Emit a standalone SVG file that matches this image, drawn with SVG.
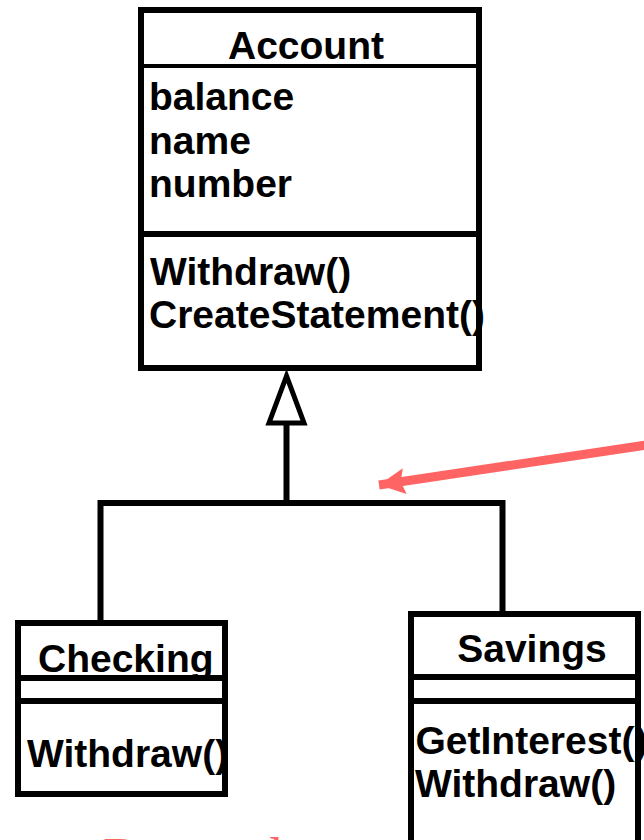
<svg xmlns="http://www.w3.org/2000/svg" width="644" height="840" viewBox="0 0 644 840">
  <style>
    .box { fill: #ffffff; stroke: #000000; stroke-width: 6; }
    .sep { stroke: #000000; stroke-width: 6; }
    .thin { stroke: #000000; stroke-width: 4; }
    .txt { font-family: "Liberation Sans", Arial, sans-serif; font-weight: bold; font-size: 39px; fill: #000000; }
    .mid { text-anchor: middle; }
    .link { fill: none; stroke: #000000; stroke-width: 6; stroke-linejoin: miter; }
    .note { fill: none; stroke: #ff6464; stroke-width: 9; }
    .notetxt { font-family: "Liberation Serif", "Times New Roman", serif; font-size: 52px; fill: #ff6464; }
  </style>
  <defs>
    <marker id="redHead" markerUnits="userSpaceOnUse" markerWidth="30" markerHeight="30" refX="26" refY="13" orient="auto">
      <path d="M0,0 L26,13 L0,26 L4,13 Z" fill="#ff6464"/>
    </marker>
  </defs>
  <rect width="644" height="840" fill="#ffffff"/>

  <!-- inheritance connectors -->
  <g id="connectors">
    <path class="link" d="M100.5 623 V503 H502.5 V614"/>
    <path class="link" d="M286.5 503 V423"/>
    <polygon points="286.5,376 269,423 304,423" fill="#ffffff" stroke="#000000" stroke-width="5" stroke-linejoin="miter"/>
  </g>

  <!-- base class -->
  <g id="account">
    <rect class="box" x="141" y="10" width="338" height="358"/>
    <line class="thin" x1="141" y1="66" x2="479" y2="66"/>
    <line class="sep" x1="141" y1="234" x2="479" y2="234"/>
    <text class="txt mid" x="306" y="59">Account</text>
    <text class="txt" x="149" y="110">balance</text>
    <text class="txt" x="149" y="154">name</text>
    <text class="txt" x="149" y="197">number</text>
    <text class="txt" x="150" y="285">Withdraw()</text>
    <text class="txt" x="149" y="328">CreateStatement()</text>
  </g>

  <!-- derived class: Checking -->
  <g id="checking">
    <rect class="box" x="18" y="623" width="207" height="171"/>
    <text class="txt" x="38" y="672">Checking</text>
    <line class="sep" x1="18" y1="678" x2="225" y2="678"/>
    <line class="sep" x1="18" y1="701" x2="225" y2="701"/>
    <text class="txt" x="27" y="767">Withdraw()</text>
  </g>

  <!-- derived class: Savings -->
  <g id="savings">
    <text class="txt" x="415.5" y="754">GetInterest()</text>
    <text class="txt" x="415" y="797">Withdraw()</text>
    <rect x="411" y="614" width="227" height="250" fill="none" stroke="#000000" stroke-width="6"/>
    <text class="txt mid" x="532" y="662">Savings</text>
    <line class="sep" x1="411" y1="677" x2="638" y2="677"/>
    <line class="sep" x1="411" y1="701" x2="638" y2="701"/>
  </g>

  <!-- annotation -->
  <g id="annotation">
    <line class="note" x1="700" y1="437" x2="379" y2="485" marker-end="url(#redHead)"/>
    <text class="notetxt" x="103" y="874">Descendants</text>
  </g>
</svg>
